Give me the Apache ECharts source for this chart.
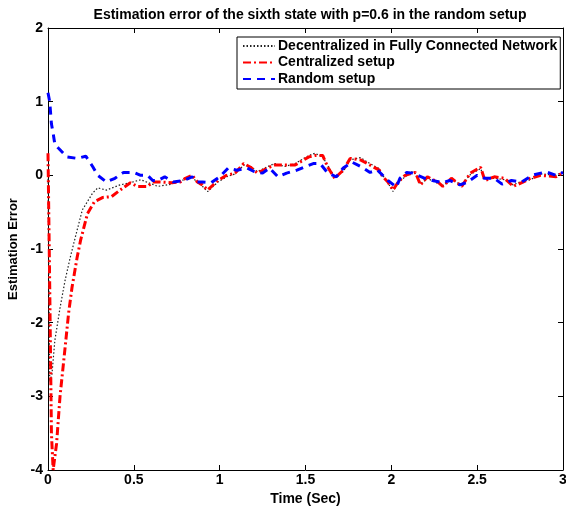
<!DOCTYPE html>
<html>
<head>
<meta charset="utf-8">
<script src="https://cdn.jsdelivr.net/npm/echarts@6/dist/echarts.min.js"></script>
<style>html,body{margin:0;padding:0;background:#fff}#c{width:566px;height:508px}</style>
</head>
<body>
<div id="c"></div>
<script>
const titleText = 'Estimation error of the sixth state with p=0.6 in the random setup';
const seriesNames = ['Decentralized in Fully Connected Network', 'Centralized setup', 'Random setup'];
const xTicks = [0, 0.5, 1, 1.5, 2, 2.5, 3];
const yTicks = [-4, -3, -2, -1, 0, 1, 2];

const tBlack = [0,0.01,0.023,0.04,0.07,0.1,0.13,0.17,0.2,0.26,0.29,0.34,0.42,0.48,0.54,0.64,0.72,0.77,0.8,0.84,0.87,0.9,0.93,0.99,1.04,1.09,1.14,1.18,1.22,1.28,1.32,1.38,1.44,1.49,1.52,1.555,1.6,1.63,1.67,1.72,1.76,1.82,1.875,1.93,1.95,1.98,2.01,2.04,2.08,2.12,2.14,2.17,2.21,2.27,2.3,2.35,2.41,2.46,2.52,2.545,2.6,2.66,2.71,2.76,2.81,2.87,2.96,3.0];
const black = [0.0,-2.8,-2.7,-2.24,-1.8,-1.42,-1.11,-0.74,-0.47,-0.24,-0.17,-0.2,-0.13,-0.1,-0.06,-0.15,-0.12,-0.07,-0.06,-0.02,-0.1,-0.15,-0.22,-0.09,-0.02,0.02,0.14,0.12,0.05,0.12,0.16,0.12,0.16,0.23,0.27,0.3,0.25,0.13,-0.02,0.05,0.21,0.24,0.16,0.09,0.0,-0.1,-0.22,-0.1,-0.02,0.05,0.02,-0.12,-0.04,-0.11,-0.14,-0.06,-0.13,0.01,0.09,-0.05,-0.04,-0.06,-0.13,-0.08,-0.06,0.02,0.0,0.05];

const tRed = [0,0.01,0.02,0.03,0.05,0.07,0.1,0.12,0.14,0.17,0.19,0.23,0.27,0.32,0.37,0.42,0.48,0.52,0.58,0.61,0.65,0.72,0.77,0.8,0.84,0.87,0.9,0.93,0.99,1.04,1.09,1.14,1.18,1.22,1.28,1.32,1.38,1.44,1.49,1.52,1.555,1.6,1.63,1.67,1.72,1.76,1.82,1.875,1.93,1.95,1.98,2.01,2.04,2.08,2.12,2.14,2.17,2.21,2.27,2.3,2.35,2.41,2.46,2.52,2.545,2.6,2.66,2.71,2.76,2.81,2.87,2.96,3.0];
const red = [0.3,-1.5,-3.5,-4.0,-3.64,-3.0,-2.33,-1.87,-1.52,-1.11,-0.88,-0.52,-0.36,-0.3,-0.29,-0.2,-0.1,-0.15,-0.15,-0.09,-0.09,-0.1,-0.09,-0.04,0.0,-0.09,-0.13,-0.2,-0.07,0.0,0.03,0.16,0.11,0.03,0.1,0.14,0.14,0.14,0.21,0.25,0.27,0.27,0.11,-0.04,0.07,0.23,0.21,0.14,0.07,-0.02,-0.09,-0.2,-0.09,0.0,0.03,0.04,-0.13,-0.02,-0.09,-0.15,-0.04,-0.15,0.03,0.11,-0.07,-0.02,-0.04,-0.15,-0.1,-0.04,0.0,-0.02,0.04];

const tBlue = [0,0.01,0.02,0.03,0.04,0.06,0.11,0.17,0.22,0.26,0.29,0.34,0.39,0.44,0.5,0.54,0.58,0.61,0.64,0.68,0.73,0.79,0.84,0.87,0.9,0.95,1.0,1.05,1.1,1.16,1.21,1.25,1.29,1.34,1.39,1.45,1.49,1.545,1.585,1.63,1.68,1.72,1.77,1.83,1.876,1.92,1.98,2.03,2.05,2.09,2.125,2.195,2.24,2.3,2.34,2.4,2.445,2.5,2.545,2.6,2.645,2.7,2.76,2.82,2.87,2.91,2.96,3.0];
const blue = [1.12,1.0,0.7,0.57,0.42,0.37,0.25,0.23,0.26,0.12,0.0,-0.09,-0.04,0.04,0.04,0.0,0.0,-0.07,-0.07,-0.02,-0.09,-0.07,-0.02,-0.09,-0.09,-0.1,-0.02,0.1,0.07,0.1,0.04,0.03,0.1,-0.02,0.03,0.07,0.11,0.16,0.16,0.03,-0.02,0.1,0.18,0.11,0.04,0.07,-0.07,-0.16,-0.04,0.04,0.03,-0.04,-0.07,-0.1,-0.07,-0.13,-0.09,0.0,-0.04,-0.04,-0.12,-0.07,-0.09,0.0,0.03,0.04,0.0,0.04];

const zip = (t, v) => t.map((x, i) => [x, v[i]]);
const font = '"Liberation Sans", Arial, Helvetica, sans-serif';
const chart = echarts.init(document.getElementById('c'), null, {renderer: 'canvas'});

const axisCommon = {
  axisLine: {show: true, onZero: false, lineStyle: {color: '#000', width: 1}},
  axisTick: {show: true, inside: true, length: 5, lineStyle: {color: '#000'}},
  splitLine: {show: false}
};
const txt = {fontFamily: font, fontSize: 14, fontWeight: 'bold', color: '#000'};

chart.setOption({
  animation: false,
  backgroundColor: '#fff',
  title: {
    text: titleText, left: 305, top: 3, textAlign: 'center',
    textStyle: Object.assign({}, txt)
  },
  grid: {left: 48, right: 3, top: 28, bottom: 38, outerBoundsMode: 'none', containLabel: false},
  legend: {
    data: seriesNames, orient: 'vertical', left: 237, top: 37,
    backgroundColor: '#fff', borderColor: '#000', borderWidth: 1,
    padding: [2, 3, 3, 5], itemGap: 2.5, itemWidth: 32, itemHeight: 14,
    itemStyle: {opacity: 0},
    textStyle: Object.assign({}, txt, {padding: [0, 0, 0, -2]})
  },
  xAxis: [
    Object.assign({}, axisCommon, {
      type: 'value', min: 0, max: 3, interval: 0.5,
      name: 'Time (Sec)', nameLocation: 'middle', nameGap: 15,
      nameTextStyle: Object.assign({}, txt),
      axisLabel: Object.assign({}, txt, {margin: 3,
        formatter: v => (xTicks.includes(v) ? String(v) : '')})
    }),
    Object.assign({}, axisCommon, {
      type: 'value', min: 0, max: 3, interval: 0.5, position: 'top', axisLabel: {show: false}
    })
  ],
  yAxis: [
    Object.assign({}, axisCommon, {
      type: 'value', min: -4, max: 2, interval: 1,
      name: 'Estimation Error', nameLocation: 'middle', nameGap: 23,
      nameTextStyle: Object.assign({}, txt, {fontSize: 13}),
      axisLabel: Object.assign({}, txt, {margin: 5,
        formatter: v => (yTicks.includes(v) ? String(v) : '')})
    }),
    Object.assign({}, axisCommon, {
      type: 'value', min: -4, max: 2, interval: 1, position: 'right', axisLabel: {show: false}
    })
  ],
  series: [
    {
      name: seriesNames[0], type: 'line', data: zip(tBlack, black), symbol: 'none',
      lineStyle: {color: '#222', width: 1.2, type: [1.5, 2]}, itemStyle: {color: '#222'}, z: 2
    },
    {
      name: seriesNames[1], type: 'line', data: zip(tRed, red), symbol: 'none',
      lineStyle: {color: '#ff0000', width: 3, type: [8, 3, 2, 3]}, itemStyle: {color: '#ff0000'}, z: 3
    },
    {
      name: seriesNames[2], type: 'line', data: zip(tBlue, blue), symbol: 'none',
      lineStyle: {color: '#0000ff', width: 3, type: [8, 6]}, itemStyle: {color: '#0000ff'}, z: 4
    }
  ]
});
</script>
</body>
</html>
